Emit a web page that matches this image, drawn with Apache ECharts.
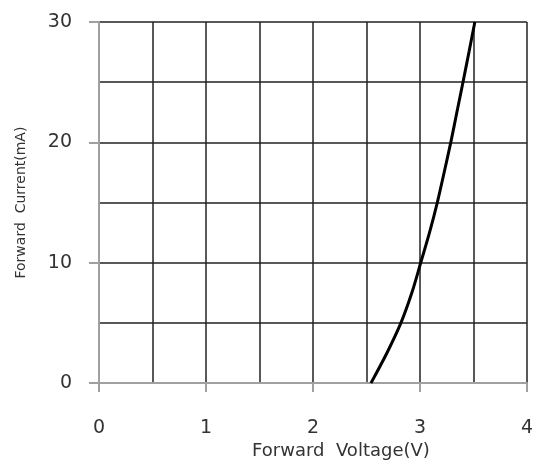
<!DOCTYPE html>
<html>
<head>
<meta charset="utf-8">
<script src="https://cdn.jsdelivr.net/npm/echarts@6/dist/echarts.min.js"></script>
<style>html,body{margin:0;padding:0;background:#fff}#c{width:536px;height:465px}</style>
</head>
<body>
<div id="c"></div>
<script>
const voltage = [2.542, 2.691, 2.822, 2.924, 3.007, 3.089, 3.162, 3.226, 3.288, 3.345, 3.402, 3.458, 3.513];
const current = [0, 2.5, 5, 7.5, 10, 12.5, 15, 17.5, 20, 22.5, 25, 27.5, 30];
const xName = 'Forward  Voltage(V)';
const yName = 'Forward  Current(mA)';

const chart = echarts.init(document.getElementById('c'));
const grid = {color:'#222', width:1.5};
const lbl = {fontSize:19, color:'#333', fontFamily:'DejaVu Sans'};
chart.setOption({
  animation:false,
  backgroundColor:'#fff',
  grid:{left:99, right:7, top:22, bottom:81},
  xAxis:{
    type:'value', min:0, max:4, interval:1,
    axisLine:{show:true, onZero:false, lineStyle:{color:'#a0a0a0', width:2}},
    axisTick:{show:true, length:9, lineStyle:{color:'#a0a0a0', width:2}},
    minorTick:{show:false, splitNumber:2},
    splitLine:{show:true, lineStyle:grid},
    minorSplitLine:{show:true, lineStyle:grid},
    axisLabel:Object.assign({margin:35}, lbl),
    name:xName, nameLocation:'middle', nameGap:56,
    nameTextStyle:{fontSize:18, color:'#333', fontFamily:'DejaVu Sans', padding:[0,0,0,56]}
  },
  yAxis:{
    type:'value', min:0, max:30, interval:10,
    axisLine:{show:true, lineStyle:{color:'#a0a0a0', width:2}},
    axisTick:{show:true, length:10, lineStyle:{color:'#a0a0a0', width:2}},
    minorTick:{show:false, splitNumber:2},
    splitLine:{show:true, lineStyle:grid},
    minorSplitLine:{show:true, lineStyle:grid},
    axisLabel:Object.assign({margin:27}, lbl),
    name:yName, nameLocation:'middle', nameGap:71,
    nameTextStyle:{fontSize:14, color:'#333', fontFamily:'DejaVu Sans'}
  },
  series:[{
    type:'line', data:voltage.map((v,i)=>[v,current[i]]),
    smooth:0.3, showSymbol:false,
    lineStyle:{color:'#000', width:3}
  }]
});
</script>
</body>
</html>
